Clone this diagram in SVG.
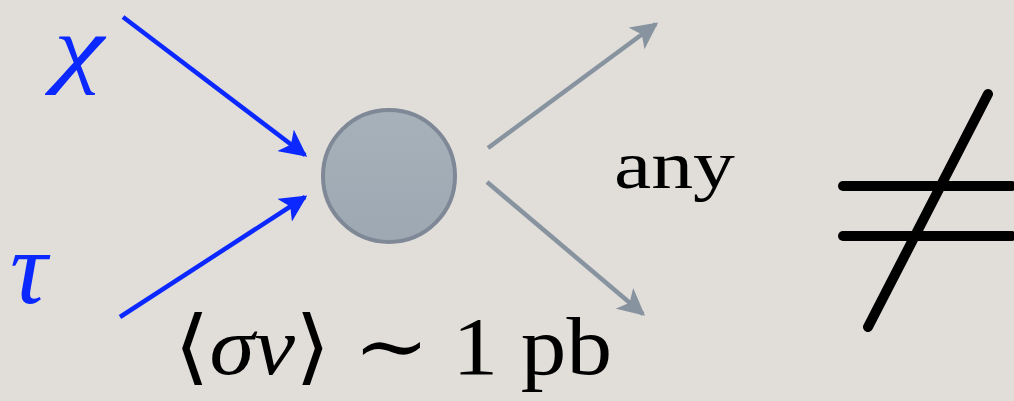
<svg xmlns="http://www.w3.org/2000/svg" width="1014" height="401" viewBox="0 0 1014 401">
<style>
.serif{font-family:"Liberation Serif","DejaVu Serif",serif;fill:#000}
.blue{fill:#0a28ff;font-style:italic}
.in{stroke:#0a28ff;stroke-width:4.5;fill:none}
.out{stroke:#8893a0;stroke-width:4.5;fill:none}
.neq{stroke:#000;stroke-width:10;stroke-linecap:round;fill:none}
</style>
<defs>
<marker id="ab" viewBox="0 0 10 10" refX="9" refY="5" markerWidth="6" markerHeight="6" markerUnits="strokeWidth" orient="auto">
<path d="M0,0 L10,5 L0,10 L2.5,5 Z" fill="#0a28ff"/>
</marker>
<marker id="ag" viewBox="0 0 10 10" refX="9" refY="5" markerWidth="6" markerHeight="6" markerUnits="strokeWidth" orient="auto">
<path d="M0,0 L10,5 L0,10 L2.5,5 Z" fill="#8893a0"/>
</marker>
<linearGradient id="cg" x1="0" y1="0" x2="0" y2="1">
<stop offset="0" stop-color="#a7b1ba"/>
<stop offset="1" stop-color="#9ea8b2"/>
</linearGradient>
</defs>
<rect width="1014" height="401" fill="#e1ded9"/>
<g id="connectors">
<line class="in" x1="123" y1="17" x2="305" y2="155" marker-end="url(#ab)"/>
<line class="in" x1="120" y1="317" x2="305" y2="197" marker-end="url(#ab)"/>
<line class="out" x1="488" y1="148" x2="656" y2="24" marker-end="url(#ag)"/>
<line class="out" x1="487" y1="182" x2="643" y2="314" marker-end="url(#ag)"/>
</g>
<g id="vertex">
<circle cx="389" cy="176" r="66" fill="url(#cg)" stroke="#7e8896" stroke-width="4"/>
</g>
<g id="chi"><text class="serif blue" x="54" y="76" font-size="86" textLength="50" lengthAdjust="spacingAndGlyphs">χ</text></g>
<g id="tau"><text class="serif blue" x="10" y="303" font-size="104">τ</text></g>
<g id="any"><text class="serif" x="614" y="188" font-size="68" textLength="121" lengthAdjust="spacingAndGlyphs">any</text></g>
<g id="xsec"><text class="serif" x="174" y="374" font-size="82" textLength="438" lengthAdjust="spacingAndGlyphs">⟨<tspan font-style="italic">σv</tspan>⟩ ∼ 1 pb</text></g>
<g id="neq">
<line class="neq" x1="843" y1="186" x2="1012" y2="186"/>
<line class="neq" x1="843" y1="236" x2="1012" y2="236"/>
<line class="neq" x1="988" y1="94" x2="868" y2="327"/>
</g>
</svg>
